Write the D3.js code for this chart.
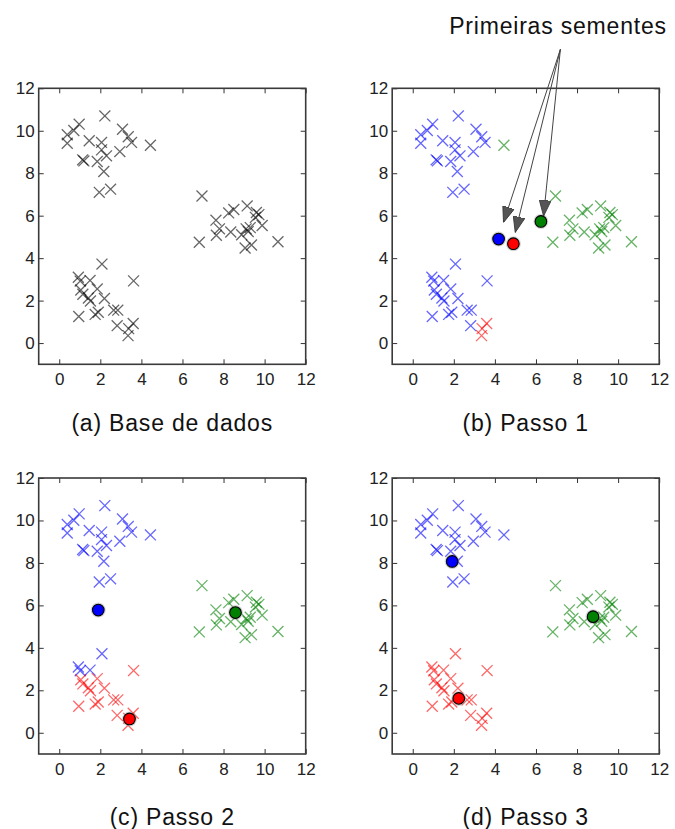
<!DOCTYPE html>
<html>
<head>
<meta charset="utf-8">
<script src="https://cdn.jsdelivr.net/npm/d3@7"></script>
<style>
body { margin: 0; background: #fff; }
</style>
</head>
<body>
<div id="chart"></div>
<script>
var width = 675;
var height = 829;

var axisDomain = [-1, 12];
var tickValues = [0, 2, 4, 6, 8, 10, 12];

// the same 60 points appear in every panel
var clusterTop = [
	[0.39, 9.81], [0.39, 9.41], [0.71, 10.01], [0.97, 10.31], [2.22, 10.7],
	[3.08, 10.07], [3.36, 9.72], [3.52, 9.45], [1.46, 9.53], [2.06, 9.45],
	[2.06, 9.1], [2.3, 8.82], [1.85, 8.55], [1.14, 8.63], [1.2, 8.58],
	[2.17, 8.08], [2.95, 9.02], [4.44, 9.32], [1.95, 7.1], [2.5, 7.25]
];
var clusterBottom = [
	[0.93, 3.1], [1.02, 2.92], [1.5, 2.95], [2.08, 3.72], [3.62, 2.93],
	[1.05, 2.5], [1.15, 2.3], [1.42, 2.12], [1.52, 1.98], [1.85, 2.55],
	[2.2, 2.1], [0.95, 1.25], [1.75, 1.35], [1.9, 1.45], [2.65, 1.55],
	[2.85, 1.55], [2.82, 0.82], [3.38, 0.68], [3.35, 0.35], [3.6, 0.92]
];
var clusterRight = [
	[6.95, 6.93], [7.63, 5.79], [7.8, 5.38], [7.65, 5.08], [6.82, 4.75],
	[8.25, 6.13], [8.5, 6.29], [8.35, 5.23], [8.88, 5.1], [9.15, 6.46],
	[9.6, 6.15], [9.55, 5.92], [9.72, 6.05], [9.88, 5.54], [9.1, 5.38],
	[9.3, 5.44], [9.05, 4.48], [9.36, 4.62], [10.65, 4.77], [9.2, 5.25]
];
var points = clusterTop.concat(clusterBottom, clusterRight);

// cluster of each point (top, bottom, right blocks of 20): k black, b blue, r red, g green
var labelsBase  = "kkkkkkkkkkkkkkkkkkkk" + "kkkkkkkkkkkkkkkkkkkk" + "kkkkkkkkkkkkkkkkkkkk";
var labelsStep1 = "bbbbbbbbbbbbbbbbbgbb" + "bbbbbbbbbbbbbbbbbrrr" + "gggggggggggggggggggg";
var labelsStep2 = "bbbbbbbbbbbbbbbbbbbb" + "bbbbrrrrrrrrrrrrrrrr" + "gggggggggggggggggggg";
var labelsStep3 = "bbbbbbbbbbbbbbbbbbbb" + "rrrrrrrrrrrrrrrrrrrr" + "gggggggggggggggggggg";

// centroids: blue, red, green
var centroidsStep1 = [[4.18, 4.9], [4.9, 4.68], [6.24, 5.73]];
var centroidsStep2 = [[1.9, 5.78], [3.42, 0.65], [8.58, 5.66]];
var centroidsStep3 = [[1.92, 8.07], [2.24, 1.62], [8.78, 5.47]];
var centroidKeys = ["b", "r", "g"];

var captions = ["(a) Base de dados", "(b) Passo 1", "(c) Passo 2", "(d) Passo 3"];

// annotation of panel (b), in data units
var annotationText = "Primeiras sementes";
var arrowStart = [7.19, 13.84];
var arrowTips = [[4.42, 5.68], [4.99, 5.21], [6.37, 5.98]];

var colours = { k: "#000000", b: "#0000ff", r: "#ff0000", g: "#008000" };

var colLeft = [38.7, 392.2];
var rowTop = [88.3, 478];
var plotWidth = 267;
var plotHeight = 276;
var captionBaseline = [431, 825];

var panels = [
	{ col: 0, row: 0, labels: labelsBase, centroids: null },
	{ col: 1, row: 0, labels: labelsStep1, centroids: centroidsStep1 },
	{ col: 0, row: 1, labels: labelsStep2, centroids: centroidsStep2 },
	{ col: 1, row: 1, labels: labelsStep3, centroids: centroidsStep3 }
];

var svg = d3.select("#chart").append("svg")
	.attr("width", width)
	.attr("height", height)
	.style("font-family", "'DejaVu Sans', sans-serif");

svg.append("defs").append("marker")
	.attr("id", "arrowhead")
	.attr("markerUnits", "userSpaceOnUse")
	.attr("viewBox", "0 -6 16 12")
	.attr("refX", 16)
	.attr("refY", 0)
	.attr("markerWidth", 16)
	.attr("markerHeight", 12)
	.attr("orient", "auto")
	.append("path")
	.attr("d", "M0,-6L16,0L0,6Z")
	.attr("fill", "#555")
	.attr("stroke", "#333")
	.attr("stroke-width", 0.8);

var crossShape = d3.symbol().type(d3.symbolX).size(80);

// text style of the captions and the annotation
function captionStyle(sel) {
	sel.attr("text-anchor", "middle")
		.style("font-family", "'Liberation Sans', Arial, sans-serif")
		.style("font-size", "23px")
		.style("letter-spacing", "0.8px")
		.attr("fill", "#111");
}

panels.forEach(function(p, i) {
	var x0 = colLeft[p.col];
	var y0 = rowTop[p.row];
	var x = d3.scaleLinear().domain(axisDomain).range([x0, x0 + plotWidth]);
	var y = d3.scaleLinear().domain(axisDomain).range([y0 + plotHeight, y0]);
	var g = svg.append("g");

	// inward ticks on all four sides
	g.append("g")
		.attr("transform", "translate(0," + (y0 + plotHeight) + ")")
		.call(d3.axisBottom(x).tickValues(tickValues).tickSizeInner(-5).tickSizeOuter(0).tickPadding(8.5));
	g.append("g")
		.attr("transform", "translate(0," + y0 + ")")
		.call(d3.axisTop(x).tickValues(tickValues).tickSizeInner(-5).tickSizeOuter(0).tickFormat(""));
	g.append("g")
		.attr("transform", "translate(" + x0 + ",0)")
		.call(d3.axisLeft(y).tickValues(tickValues).tickSizeInner(-5).tickSizeOuter(0).tickPadding(4));
	g.append("g")
		.attr("transform", "translate(" + (x0 + plotWidth) + ",0)")
		.call(d3.axisRight(y).tickValues(tickValues).tickSizeInner(-5).tickSizeOuter(0).tickFormat(""));

	g.selectAll(".domain").remove();
	g.selectAll(".tick line").attr("stroke", "#333").attr("stroke-width", 1);
	g.selectAll(".tick text").attr("fill", "#222").style("font-size", "17px");

	g.append("rect")
		.attr("x", x0)
		.attr("y", y0)
		.attr("width", plotWidth)
		.attr("height", plotHeight)
		.attr("fill", "none")
		.attr("stroke", "#3a3a3a")
		.attr("stroke-width", 1.6);

	g.selectAll(".pt")
		.data(points)
		.enter().append("path")
		.attr("class", "pt")
		.attr("d", crossShape)
		.attr("transform", function(d) { return "translate(" + x(d[0]) + "," + y(d[1]) + ")"; })
		.attr("fill", "none")
		.attr("stroke", function(d, j) { return colours[p.labels[j]]; })
		.attr("stroke-width", 1.3)
		.attr("stroke-opacity", 0.6);

	if (p.centroids) {
		g.selectAll(".halo")
			.data(p.centroids)
			.enter().append("circle")
			.attr("cx", function(d) { return x(d[0]); })
			.attr("cy", function(d) { return y(d[1]); })
			.attr("r", 7.5)
			.attr("fill", "#888")
			.attr("fill-opacity", 0.35);
		g.selectAll(".centroid")
			.data(p.centroids)
			.enter().append("circle")
			.attr("cx", function(d) { return x(d[0]); })
			.attr("cy", function(d) { return y(d[1]); })
			.attr("r", 5.8)
			.attr("fill", function(d, j) { return colours[centroidKeys[j]]; })
			.attr("stroke", "#000")
			.attr("stroke-width", 1.1);
	}

	svg.append("text")
		.attr("x", x0 + plotWidth / 2)
		.attr("y", captionBaseline[p.row])
		.call(captionStyle)
		.text(captions[i]);

	if (i === 1) {
		g.selectAll(".arrow")
			.data(arrowTips)
			.enter().append("line")
			.attr("x1", x(arrowStart[0]))
			.attr("y1", y(arrowStart[1]))
			.attr("x2", function(d) { return x(d[0]); })
			.attr("y2", function(d) { return y(d[1]); })
			.attr("stroke", "#444")
			.attr("stroke-width", 1)
			.attr("marker-end", "url(#arrowhead)");
		svg.append("text")
			.attr("x", 558)
			.attr("y", 34)
			.call(captionStyle)
			.text(annotationText);
	}
});
</script>
</body>
</html>
